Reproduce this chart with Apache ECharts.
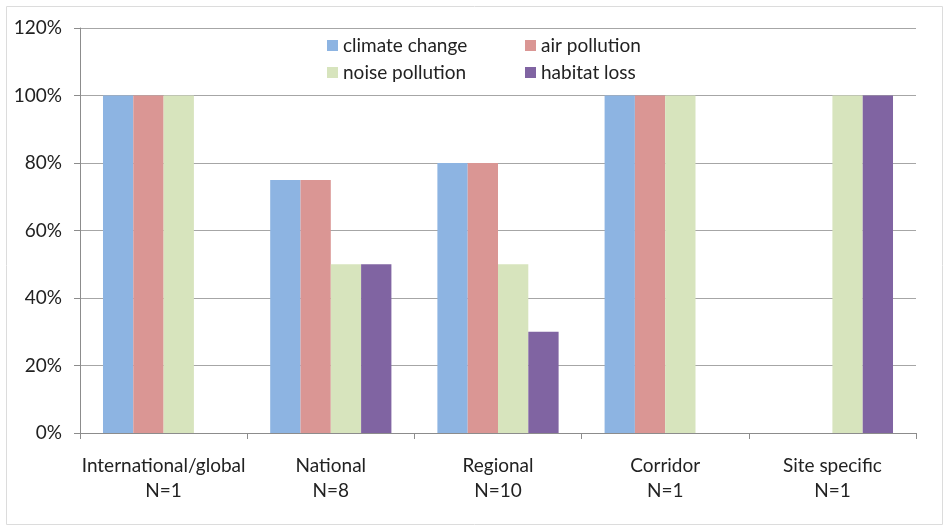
<!DOCTYPE html>
<html><head><meta charset="utf-8">
<script src="https://cdn.jsdelivr.net/npm/echarts@6/dist/echarts.min.js"></script>
<style>html,body{margin:0;padding:0;background:#fff}#c{width:944px;height:526px}</style>
</head><body><div id="c"></div>
<script>
const categories = ['International/global\nN=1', 'National\nN=8', 'Regional\nN=10', 'Corridor\nN=1', 'Site specific\nN=1'];
const climateChange = [100, 75, 80, 100, 0];
const airPollution = [100, 75, 80, 100, 0];
const noisePollution = [100, 50, 50, 100, 100];
const habitatLoss = [0, 50, 30, 0, 100];
const yTicks = [0, 20, 40, 60, 80, 100, 120];

const FONT = 'Lato';
const FS = 19;
const chart = echarts.init(document.getElementById('c'));
const mk = (name, data, color) => ({
  name, type: 'bar', data, barGap: '0%', barCategoryGap: '27.5%',
  itemStyle: { color }, emphasis: { disabled: true }
});
chart.setOption({
  animation: false,
  textStyle: { fontFamily: FONT },
  graphic: [{ type: 'rect', left: 4, top: 4, shape: { width: 936, height: 518 },
    style: { fill: 'none', stroke: '#dcdcdc', lineWidth: 1 }, silent: true }],
  grid: { left: 80, right: 28, top: 28, bottom: 93 },
  legend: [
    { orient: 'vertical', left: 322, top: 31, itemWidth: 11, itemHeight: 11, itemGap: 8,
      icon: 'rect', data: ['climate change', 'noise pollution'],
      textStyle: { fontFamily: FONT, fontSize: FS, color: '#222' } },
    { orient: 'vertical', left: 520, top: 31, itemWidth: 11, itemHeight: 11, itemGap: 8,
      icon: 'rect', data: ['air pollution', 'habitat loss'],
      textStyle: { fontFamily: FONT, fontSize: FS, color: '#222' } }
  ],
  xAxis: {
    type: 'category', data: categories,
    axisLine: { lineStyle: { color: '#8c8c8c' } },
    axisTick: { show: true, length: 6, lineStyle: { color: '#8c8c8c' } },
    axisLabel: { interval: 0, fontFamily: FONT, fontSize: FS, color: '#222', margin: 20, lineHeight: 25 }
  },
  yAxis: {
    type: 'value', min: 0, max: 120, interval: 20,
    axisLine: { show: true, lineStyle: { color: '#8c8c8c' } },
    axisTick: { show: true, length: 6, lineStyle: { color: '#8c8c8c' } },
    splitLine: { lineStyle: { color: '#a6a6a6' } },
    axisLabel: { fontFamily: FONT, fontSize: FS, color: '#222', margin: 18,
      formatter: v => v + '%' }
  },
  series: [
    mk('climate change', climateChange, '#8DB4E2'),
    mk('air pollution', airPollution, '#DA9694'),
    mk('noise pollution', noisePollution, '#D7E4BD'),
    mk('habitat loss', habitatLoss, '#8064A2')
  ]
});
</script></body></html>
